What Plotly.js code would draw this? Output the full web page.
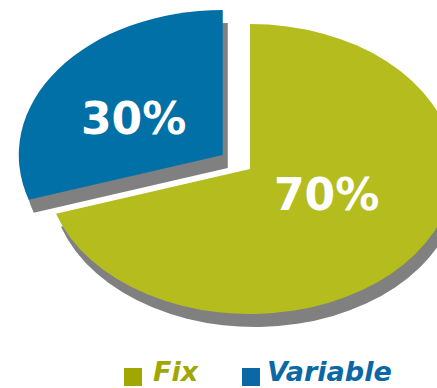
<!DOCTYPE html>
<html>
<head>
<meta charset="utf-8">
<script src="https://cdn.plot.ly/plotly-3.0.1.min.js"></script>
<style>
  html, body { margin: 0; padding: 0; background: #ffffff; }
  #chart { width: 437px; height: 388px; }
</style>
</head>
<body>
<div id="chart"></div>
<script>
// ---- data ----
const categories = ['Fix', 'Variable'];
const shares = [70, 30];
const sliceColors = ['#b5bd1e', '#0070a6'];
const legendColors = ['#9fa700', '#0a68a4'];
const pulls = [0, 0.165];
const shadowColor = '#808080';

// ---- layout geometry (pixels) ----
const W = 437, H = 388;
const cx = 250, cy = 169;      // pie centre
const rY = 145;                // vertical radius
const rX = 204;                // horizontal radius (tilted pie)
const stretch = rX / rY;
const shadowDx = 5 / stretch, shadowDy = 13;
const maxPull = Math.max(...pulls);
const half = rY * (1 + maxPull);

function domainAt(px, py) {
  return {
    x: [(px - half) / W, (px + half) / W],
    y: [(H - py - half) / H, (H - py + half) / H]
  };
}

const total = shares.reduce((a, b) => a + b, 0);
const pctText = shares.map(v => Math.round(v / total * 100) + '%');

const common = {
  type: 'pie',
  labels: categories,
  values: shares,
  sort: false,
  direction: 'clockwise',
  rotation: 0,
  pull: pulls,
  textinfo: 'none',
  hoverinfo: 'none',
  showlegend: false
};

const shadow = Object.assign({}, common, {
  name: 'shadow',
  domain: domainAt(cx + shadowDx, cy + shadowDy),
  marker: { colors: categories.map(() => shadowColor), line: { width: 0 } }
});

const main = Object.assign({}, common, {
  name: 'main',
  domain: domainAt(cx, cy),
  marker: { colors: sliceColors, line: { width: 0 } }
});

// percentage labels
const labelPos = [[326, 194], [133.5, 118]];
const annotations = pctText.map((t, i) => ({
  xref: 'paper', yref: 'paper',
  x: labelPos[i][0] / W, y: 1 - labelPos[i][1] / H,
  xanchor: 'center', yanchor: 'middle',
  text: '<b>' + t + '</b>',
  showarrow: false,
  font: { family: 'DejaVu Sans', size: 44, color: '#ffffff' }
}));

// legend (squares + coloured italic names)
const legSquareX = [124, 242];
const legTextX = [152, 266];
const shapes = [];
categories.forEach((c, i) => {
  shapes.push({
    type: 'rect', xref: 'paper', yref: 'paper',
    x0: legSquareX[i] / W, x1: (legSquareX[i] + 18) / W,
    y0: 1 - 386 / H, y1: 1 - 368 / H,
    fillcolor: legendColors[i], line: { width: 0 }
  });
  annotations.push({
    xref: 'paper', yref: 'paper',
    x: legTextX[i] / W, y: 0,
    xanchor: 'left', yanchor: 'bottom',
    text: '<b><i>' + c + '</i></b>',
    showarrow: false,
    borderpad: 0,
    font: { family: 'DejaVu Sans', size: 27, color: legendColors[i] }
  });
});

const layout = {
  width: W, height: H,
  margin: { l: 0, r: 0, t: 0, b: 0 },
  paper_bgcolor: '#ffffff',
  plot_bgcolor: '#ffffff',
  showlegend: false,
  annotations: annotations,
  shapes: shapes
};

Plotly.newPlot('chart', [shadow, main], layout, { staticPlot: true, displayModeBar: false }).then(function (gd) {
  // tilt: stretch pie horizontally about its centre to give the elliptical look
  const layer = gd.querySelector('.pielayer');
  if (layer) {
    layer.setAttribute('transform',
      'matrix(' + stretch + ',0,0,1,' + (cx * (1 - stretch)) + ',0)');
  }
});
</script>
</body>
</html>
